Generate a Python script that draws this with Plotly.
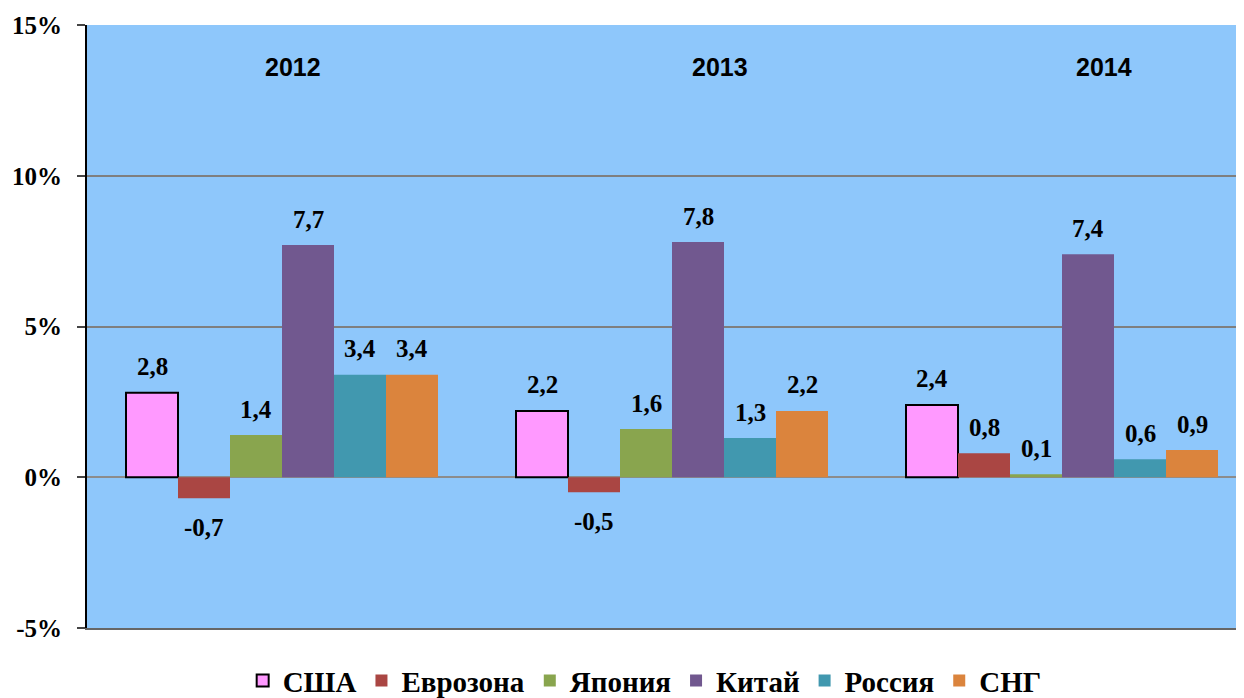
import plotly.graph_objects as go

years = ["2012", "2013", "2014"]
series_names = ["США", "Еврозона", "Япония", "Китай", "Россия", "СНГ"]
usa = [2.8, 2.2, 2.4]
eurozone = [-0.7, -0.5, 0.8]
japan = [1.4, 1.6, 0.1]
china = [7.7, 7.8, 7.4]
russia = [3.4, 1.3, 0.6]
cis = [3.4, 2.2, 0.9]
tick_vals = [-5, 0, 5, 10, 15]
tick_text = ["-5%", "0%", "5%", "10%", "15%"]

values = [usa, eurozone, japan, china, russia, cis]
colors = ["#FF99FF", "#AA4643", "#89A54E", "#71588F", "#4198AF", "#DB843D"]

BARGAP = 0.2
n = len(series_names)
bw = (1 - BARGAP) / n

fig = go.Figure()
for j, (name, vals, col) in enumerate(zip(series_names, values, colors)):
    fig.add_trace(go.Bar(
        x=years, y=vals, name=name,
        marker=dict(color=col,
                    line=dict(color="black" if j == 0 else col, width=2 if j == 0 else 0)),
    ))

annotations = []
label_font = dict(family="Liberation Serif", size=25, color="black", weight="bold")
for j, vals in enumerate(values):
    for i, v in enumerate(vals):
        annotations.append(dict(
            x=i + (j - (n - 1) / 2) * bw, y=v, xref="x", yref="y",
            text=f"{v:.1f}".replace(".", ","),
            showarrow=False, font=label_font,
            yanchor="middle", yshift=26 if v >= 0 else -29,
        ))

year_shift = [11, 48, 42]
for i, yr in enumerate(years):
    annotations.append(dict(
        x=i, y=13.6, xref="x", yref="y", text=yr,
        showarrow=False, xshift=year_shift[i],
        font=dict(family="Liberation Sans", size=25, color="black", weight="bold"),
    ))

# page body has an 8px margin, so the figure is drawn at (8, 8)
fig.update_layout(
    width=1236, height=690,
    margin=dict(l=79, r=0, t=17, b=70, autoexpand=False),
    paper_bgcolor="white", plot_bgcolor="#8EC7FB",
    barmode="group", bargap=BARGAP, bargroupgap=0,
    showlegend=True,
    legend=dict(orientation="h", x=0.482, xanchor="center", y=-0.045, yanchor="top",
                font=dict(family="Liberation Serif", size=29, color="black", weight="bold"),
                traceorder="normal"),
    annotations=annotations,
)
fig.update_xaxes(range=[-0.5, 2.5 - 13 / 390], showticklabels=False, showgrid=False,
                 showline=True, linecolor="#666666", linewidth=2, ticks="")
fig.update_yaxes(range=[-5, 15], tickvals=tick_vals, ticktext=tick_text,
                 showgrid=True, gridcolor="#7F7F7F", gridwidth=1.5,
                 zeroline=True, zerolinecolor="#8C8C8C", zerolinewidth=2,
                 showline=True, linecolor="black", linewidth=2,
                 ticks="outside", ticklen=8, tickcolor="#444444", tickwidth=2,
                 tickfont=dict(family="Liberation Serif", size=25, color="black", weight="bold"),
                 ticklabelstandoff=10)

fig.write_html("out.html")
